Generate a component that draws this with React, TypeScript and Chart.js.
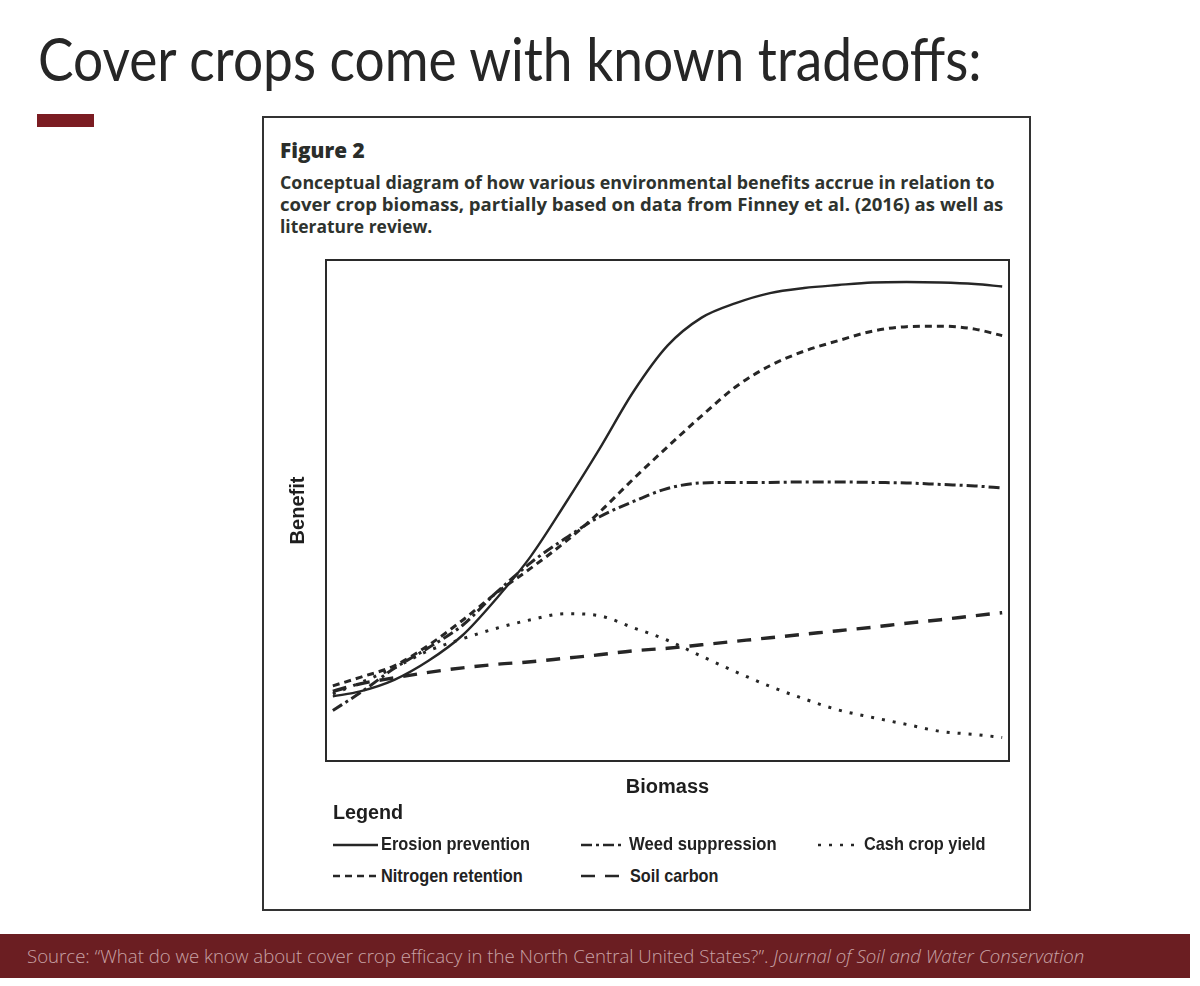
import React, { useEffect, useLayoutEffect, useRef, useState } from "react";
import { Chart, registerables } from "chart.js";

Chart.register(...registerables);

// ---- data ----
const biomass = [1, 5, 10, 15, 20, 25, 30, 35, 40, 45, 50, 55, 60, 65, 70, 75, 80, 85, 90, 95, 99];
const erosionPrevention = [12.9, 13.9, 16.2, 20.0, 25.1, 32.5, 40.9, 51.3, 62.2, 73.7, 82.9, 88.5, 91.4, 93.4, 94.4, 95.0, 95.5, 95.6, 95.5, 95.2, 94.7];
const nitrogenRetention = [15.0, 16.7, 19.0, 23.1, 28.1, 33.6, 38.5, 43.7, 49.6, 56.3, 62.7, 68.9, 74.7, 78.9, 81.8, 83.9, 85.8, 86.7, 86.8, 86.2, 84.9];
const weedSuppression = [10.1, 13.6, 18.5, 22.6, 27.1, 33.7, 39.6, 44.4, 48.7, 51.8, 54.4, 55.5, 55.6, 55.6, 55.7, 55.7, 55.6, 55.5, 55.2, 54.9, 54.5];
const cashCropYield = [13.4, 15.6, 18.6, 22.0, 24.4, 26.5, 28.2, 29.4, 29.0, 26.6, 24.1, 20.9, 17.8, 14.9, 12.4, 10.2, 8.7, 7.3, 5.9, 5.3, 4.7];
const soilCarbon = [13.9, 15.4, 16.6, 17.7, 18.6, 19.3, 19.8, 20.5, 21.2, 22.0, 22.5, 23.2, 23.9, 24.6, 25.3, 26.0, 26.7, 27.5, 28.2, 29.0, 29.6];

const seriesNames = ["Erosion prevention", "Nitrogen retention", "Weed suppression", "Cash crop yield", "Soil carbon"];
const axisTitles = { x: "Biomass", y: "Benefit" };
const pageTitle = "Cover crops come with known tradeoffs:";
const figureLabel = "Figure 2";
const captionLines = [
  "Conceptual diagram of how various environmental benefits accrue in relation to",
  "cover crop biomass, partially based on data from Finney et al. (2016) as well as",
  "literature review.",
];
const sourceText = "Source: \u201cWhat do we know about cover crop efficacy in the North Central United States?\u201d. ";
const sourceJournal = "Journal of Soil and Water Conservation";

const INK = "#262626";
const dashes: Record<string, number[]> = {
  "Erosion prevention": [],
  "Nitrogen retention": [7, 5],
  "Weed suppression": [11, 4, 3, 4],
  "Cash crop yield": [3, 8],
  "Soil carbon": [14, 10],
};

function FitText(props: { width: number; style?: React.CSSProperties; children: React.ReactNode }) {
  const ref = useRef<HTMLSpanElement>(null);
  const [sx, setSx] = useState(1);
  useLayoutEffect(() => {
    const el = ref.current;
    if (!el) return;
    const measure = () => {
      const w = el.offsetWidth;
      if (w > 0) setSx(props.width / w);
    };
    measure();
    if ((document as any).fonts && (document as any).fonts.ready) (document as any).fonts.ready.then(measure);
  }, [props.width]);
  return (
    <span
      ref={ref}
      style={{
        display: "inline-block",
        whiteSpace: "nowrap",
        transformOrigin: "0 50%",
        transform: `scaleX(${sx})`,
        ...props.style,
      }}
    >
      {props.children}
    </span>
  );
}

function Txt(props: {
  x: number;
  cy: number;
  width: number;
  size: number;
  family: string;
  weight?: number | string;
  color?: string;
  children: React.ReactNode;
}) {
  const lh = Math.round(props.size * 1.2);
  return (
    <div
      style={{
        position: "absolute",
        left: props.x,
        top: props.cy - lh / 2,
        height: lh,
        lineHeight: lh + "px",
        fontSize: props.size,
        fontFamily: props.family,
        fontWeight: props.weight ?? 400,
        color: props.color ?? INK,
        whiteSpace: "nowrap",
      }}
    >
      <FitText width={props.width}>{props.children}</FitText>
    </div>
  );
}

function Sample(props: { x: number; cy: number; w: number; dash: number[] }) {
  return (
    <svg
      style={{ position: "absolute", left: props.x, top: props.cy - 3 }}
      width={props.w}
      height={6}
    >
      <line
        x1={0}
        y1={3}
        x2={props.w}
        y2={3}
        stroke={INK}
        strokeWidth={2.6}
        strokeDasharray={props.dash.length ? props.dash.join(" ") : undefined}
      />
    </svg>
  );
}

const framePlugin = {
  id: "plotFrame",
  afterDatasetsDraw(chart: any) {
    const { ctx, chartArea } = chart;
    const { left, top, right, bottom } = chartArea;
    ctx.save();
    ctx.strokeStyle = "#2a2a2a";
    ctx.lineWidth = 2;
    ctx.setLineDash([]);
    ctx.strokeRect(left, top, right - left, bottom - top);
    ctx.restore();
  },
};

function ConceptChart() {
  const ref = useRef<HTMLCanvasElement>(null);
  useEffect(() => {
    if (!ref.current) return;
    const seriesValues = [erosionPrevention, nitrogenRetention, weedSuppression, cashCropYield, soilCarbon];
    const widths = [2.4, 3, 3, 3, 3.4];
    const chart = new Chart(ref.current, {
      type: "line",
      data: {
        datasets: seriesNames.map((name, i) => ({
          label: name,
          data: biomass.map((b, j) => ({ x: b, y: seriesValues[i][j] })),
          borderColor: INK,
          backgroundColor: INK,
          borderWidth: widths[i],
          borderDash: dashes[name],
          pointRadius: 0,
          fill: false,
          cubicInterpolationMode: "monotone" as const,
        })),
      },
      options: {
        responsive: false,
        maintainAspectRatio: false,
        animation: false,
        layout: { padding: { left: 20, top: 10, right: 13, bottom: 7 } },
        plugins: { legend: { display: false }, tooltip: { enabled: false } },
        scales: {
          x: {
            type: "linear",
            min: 0,
            max: 100,
            grid: { display: false, drawTicks: false },
            border: { display: false },
            ticks: { display: false },
            title: {
              display: true,
              text: axisTitles.x,
              color: "#1e1e1e",
              font: { family: '"Liberation Sans", Arial, sans-serif', size: 20, weight: "bold" },
              padding: { top: 14, bottom: 4 },
            },
          },
          y: {
            type: "linear",
            min: 0,
            max: 100,
            grid: { display: false, drawTicks: false },
            border: { display: false },
            ticks: { display: false },
            title: {
              display: true,
              text: axisTitles.y,
              color: "#1e1e1e",
              font: { family: '"Liberation Sans", Arial, sans-serif', size: 20, weight: "bold" },
              padding: { top: 4, bottom: 16 },
            },
          },
        },
      },
      plugins: [framePlugin],
    });
    return () => chart.destroy();
  }, []);
  return (
    <canvas
      ref={ref}
      width={760}
      height={560}
      style={{ position: "absolute", left: 262, top: 250, width: 760, height: 560 }}
    />
  );
}

const legendFont = '"Liberation Sans", Arial, sans-serif';
const captionFont = '"Open Sans", "Noto Sans", sans-serif';

export default function App() {
  return (
    <div
      style={{
        position: "absolute",
        left: 0,
        top: 0,
        width: 1200,
        height: 986,
        background: "#ffffff",
        overflow: "hidden",
      }}
    >
      {/* page title */}
      <Txt x={38} cy={58} width={944} size={60} family='Lato, "Open Sans", sans-serif' color="#262626">
        {pageTitle}
      </Txt>
      <div style={{ position: "absolute", left: 37, top: 114, width: 57, height: 13, background: "#7b1c22" }} />

      {/* figure box */}
      <div
        style={{
          position: "absolute",
          left: 262,
          top: 116,
          width: 769,
          height: 795,
          border: "2px solid #333",
          boxSizing: "border-box",
        }}
      />
      <Txt x={280} cy={150} width={85} size={21} family={captionFont} weight={800} color="#2a2d2a">
        {figureLabel}
      </Txt>
      {captionLines.map((line, i) => (
        <Txt
          key={i}
          x={280}
          cy={182 + i * 22}
          width={[714, 723, 152][i]}
          size={18}
          family={captionFont}
          weight={700}
          color="#2e332e"
        >
          {line}
        </Txt>
      ))}

      <ConceptChart />

      {/* legend */}
      <Txt x={333} cy={812} width={70} size={20} family={legendFont} weight={700} color="#1e1e1e">
        Legend
      </Txt>
      <Sample x={333} cy={845} w={45} dash={dashes["Erosion prevention"]} />
      <Txt x={381} cy={843} width={149} size={19} family={legendFont} weight={700} color="#222">
        {seriesNames[0]}
      </Txt>
      <Sample x={581} cy={845} w={44} dash={dashes["Weed suppression"]} />
      <Txt x={629} cy={843} width={148} size={19} family={legendFont} weight={700} color="#222">
        {seriesNames[2]}
      </Txt>
      <Sample x={818} cy={845} w={42} dash={dashes["Cash crop yield"]} />
      <Txt x={864} cy={843} width={122} size={19} family={legendFont} weight={700} color="#222">
        {seriesNames[3]}
      </Txt>
      <Sample x={333} cy={876} w={44} dash={dashes["Nitrogen retention"]} />
      <Txt x={381} cy={875} width={142} size={19} family={legendFont} weight={700} color="#222">
        {seriesNames[1]}
      </Txt>
      <Sample x={581} cy={876} w={42} dash={dashes["Soil carbon"]} />
      <Txt x={630} cy={875} width={88} size={19} family={legendFont} weight={700} color="#222">
        {seriesNames[4]}
      </Txt>

      {/* footer */}
      <div style={{ position: "absolute", left: 0, top: 934, width: 1190, height: 44, background: "#6b1e22" }} />
      <Txt x={27} cy={956} width={1057} size={19} family='"Open Sans", Lato, sans-serif' weight={300} color="#c9a3a6">
        {sourceText}
        <i>{sourceJournal}</i>
      </Txt>
    </div>
  );
}
